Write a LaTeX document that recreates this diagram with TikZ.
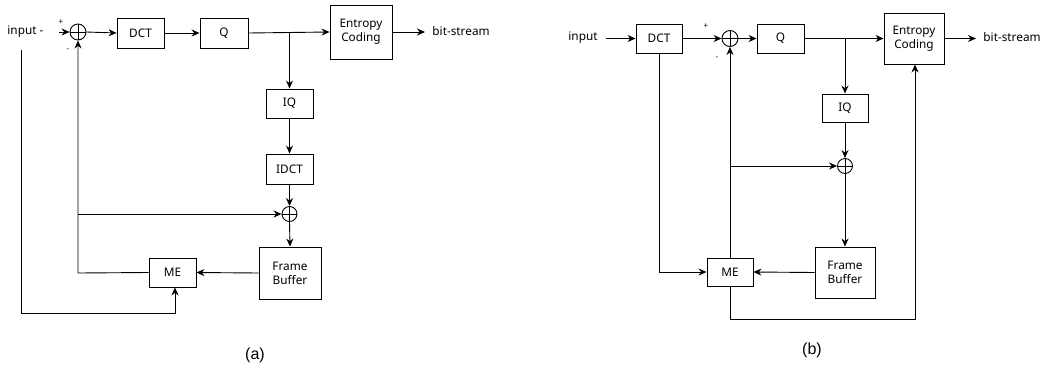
\documentclass[tikz,border=0pt]{standalone}
\usepackage{fontspec}
\setmainfont{Noto Sans}
\newfontfamily\capfont{Liberation Sans}
\usetikzlibrary{arrows.meta}
\newcommand\sumcross[1]{\draw[line width=0.9pt] (#1.north)--(#1.south) (#1.west)--(#1.east);}
\begin{document}
\begin{tikzpicture}[x=1pt,y=-1pt,
  line width=0.9pt,
  arr/.style={-{Stealth[length=8pt,width=7pt]}},
  blk/.style={draw,line width=0.9pt,inner sep=0pt,font=\fontsize{11.8}{14}\selectfont,align=center},
  sumnode/.style={draw,circle,line width=0.9pt,inner sep=0pt,minimum size=16pt},
  txt/.style={inner sep=0pt,font=\fontsize{11.8}{14}\selectfont},
  sgn/.style={inner sep=0pt,font=\fontsize{8}{9}\selectfont},
  captxt/.style={inner sep=0pt,font=\capfont\fontsize{16}{18}\selectfont}]
\useasboundingbox (0,0) rectangle (1046,367);

% ---------------- panel (a) ----------------
\node[txt,anchor=west] (ina) at (7,32) {input -};
\coordinate (inaL) at (21,50);
\coordinate (inaA) at (59,32);
\node[sumnode] (sa1) at (78,32) {};
\sumcross{sa1}
\node[sgn] (pa) at (61,22) {+};
\node[sgn] (ma) at (68,50) {-};
\node[blk,minimum width=47pt,minimum height=30pt] (dcta) at (140.5,33) {DCT};
\node[blk,minimum width=48pt,minimum height=30pt] (qa) at (224,33) {Q};
\node[blk,minimum width=62pt,minimum height=54pt] (eca) at (361,32) {Entropy\\Coding};
\node[blk,minimum width=47pt,minimum height=29pt] (iqa) at (289.5,103.5) {IQ};
\node[blk,minimum width=47pt,minimum height=30pt] (idcta) at (289.5,169) {IDCT};
\node[sumnode,minimum size=15pt] (sa2) at (289.5,214) {};
\sumcross{sa2}
\node[blk,minimum width=62pt,minimum height=52pt] (fba) at (290,273) {Frame\\Buffer};
\node[blk,minimum width=47pt,minimum height=29pt] (mea) at (172.5,272.5) {ME};
\node[txt,anchor=west] (bsa) at (432,31) {bit-stream};
\coordinate (bsaA) at (425,32);
\coordinate (bra) at (289.5,32);
\coordinate (fbka) at (78,273);
\coordinate (tapa) at (78,214);
\coordinate (bota) at (21,313);
\coordinate (botb) at (175,313);

\draw[arr] (inaA) -- (sa1.west);
\draw[arr] (sa1.east) -- (dcta.west);
\draw[arr] (dcta.east) -- (qa.west);
\draw[arr] (qa.east) -- (eca.west);
\draw[arr] (bra) -- (iqa.north);
\draw[arr] (iqa.south) -- (idcta.north);
\draw[arr] (idcta.south) -- (sa2.north);
\draw[arr] (sa2.south) -- (fba.north);
\draw[arr] (fba.west) -- (mea.east);
\draw[arr] (mea.west) -- (fbka) -- (sa1.south);
\draw[arr] (tapa) -- (sa2.west);
\draw[arr] (inaL) -- (bota) -- (botb) -- (botb|-mea.south);
\draw[arr] (eca.east |- bsaA) -- (bsaA);
\node[captxt] (capa) at (255,355) {(a)};

% ---------------- panel (b) ----------------
\node[txt] (inb) at (583,38) {input};
\coordinate (inbA) at (606,38.5);
\node[blk,minimum width=46pt,minimum height=29pt] (dctb) at (659,38.5) {DCT};
\node[sumnode] (sb1) at (730,38.5) {};
\sumcross{sb1}
\node[sgn] (pb) at (706,26) {+};
\node[sgn] (mb) at (717,58) {-};
\node[blk,minimum width=47pt,minimum height=29pt] (qb) at (780.5,38.5) {Q};
\node[blk,minimum width=60pt,minimum height=51pt] (ecb) at (914,38.5) {Entropy\\Coding};
\node[blk,minimum width=46pt,minimum height=28pt] (iqb) at (845,108) {IQ};
\node[sumnode,minimum size=15pt] (sb2) at (845,166) {};
\sumcross{sb2}
\node[blk,minimum width=60pt,minimum height=51pt] (fbb) at (845,272.5) {Frame\\Buffer};
\node[blk,minimum width=46pt,minimum height=28pt] (meb) at (730,272) {ME};
\node[txt,anchor=west] (bsb) at (983,37) {bit-stream};
\coordinate (bsbA) at (976,38.5);
\coordinate (brb) at (845,38.5);
\coordinate (tapb) at (730,166);
\coordinate (dcd) at (659,272);
\coordinate (mbl) at (730,319);
\coordinate (mbr) at (915,319);

\draw[arr] (inbA) -- (dctb.west);
\draw[arr] (dctb.east) -- (sb1.west);
\draw[arr] (sb1.east) -- (qb.west);
\draw[arr] (qb.east) -- (ecb.west);
\draw[arr] (ecb.east) -- (bsbA);
\draw[arr] (brb) -- (iqb.north);
\draw[arr] (iqb.south) -- (sb2.north);
\draw[arr] (sb2.south) -- (fbb.north);
\draw[arr] (fbb.west) -- (meb.east);
\draw[arr] (dctb.south) -- (dcd) -- (meb.west);
\draw[arr] (meb.north) -- (sb1.south);
\draw[arr] (tapb) -- (sb2.west);
\draw[arr] (meb.south) -- (mbl) -- (mbr) -- (mbr |- ecb.south);
\node[captxt] (capb) at (812,350) {(b)};
\end{tikzpicture}
\end{document}
